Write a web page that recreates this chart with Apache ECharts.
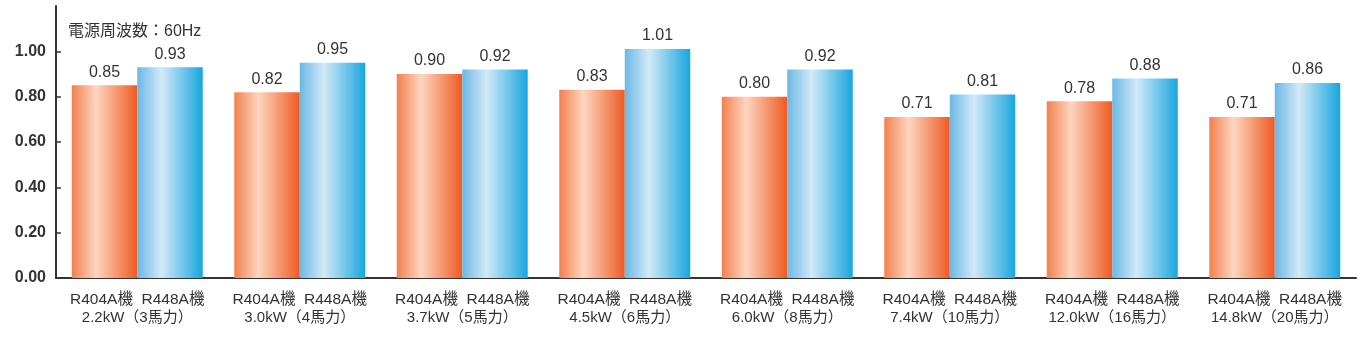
<!DOCTYPE html>
<html>
<head>
<meta charset="utf-8">
<script src="https://cdn.jsdelivr.net/npm/echarts@6/dist/echarts.min.js"></script>
<style>
  html, body { margin: 0; padding: 0; background: #fff; }
  #chart { width: 1371px; height: 344px; }
</style>
</head>
<body>
<div id="chart"></div>
<script>
// Models and capacities
const modelLine = 'R404A機  R448A機';
const capacities = ['2.2kW（3馬力）', '3.0kW（4馬力）', '3.7kW（5馬力）', '4.5kW（6馬力）',
                    '6.0kW（8馬力）', '7.4kW（10馬力）', '12.0kW（16馬力）', '14.8kW（20馬力）'];
// Values per refrigerant
const r404a = [0.85, 0.82, 0.90, 0.83, 0.80, 0.71, 0.78, 0.71];
const r448a = [0.93, 0.95, 0.92, 1.01, 0.92, 0.81, 0.88, 0.86];
// Y axis ticks
const yTicks = [0, 0.2, 0.4, 0.6, 0.8, 1.0];

const categories = capacities;
const textColor = '#333';
const fontFam = '"Liberation Sans", Arial, "Noto Sans CJK JP", sans-serif';

function barGradient(edgeL, mid, edgeR) {
  return new echarts.graphic.LinearGradient(0, 0, 1, 0, [
    { offset: 0, color: edgeL },
    { offset: 0.37, color: mid },
    { offset: 1, color: edgeR }
  ]);
}

const valueLabel = {
  show: true,
  position: 'top',
  distance: 5,
  color: textColor,
  fontSize: 16,
  fontFamily: fontFam,
  formatter: p => p.value.toFixed(2)
};

const chart = echarts.init(document.getElementById('chart'));
chart.setOption({
  animation: false,
  title: {
    text: '電源周波数：60Hz',
    left: 63,
    top: 19,
    textStyle: { color: textColor, fontSize: 16, fontWeight: 'normal', fontFamily: fontFam }
  },
  grid: { left: 56, right: 15, top: 6, bottom: 66, containLabel: false },
  xAxis: {
    type: 'category',
    data: categories,
    axisLine: { lineStyle: { color: textColor, width: 2 } },
    axisTick: { inside: true, length: 6, lineStyle: { color: textColor, width: 1.5 } },
    axisLabel: {
      interval: 0,
      margin: 13,
      formatter: c => '{m|' + modelLine + '}\n{c|' + c + '}',
      rich: {
        m: { color: textColor, fontSize: 15.5, fontFamily: fontFam, lineHeight: 18 },
        c: { color: textColor, fontSize: 15, fontFamily: fontFam, lineHeight: 18 }
      }
    }
  },
  yAxis: {
    type: 'value',
    min: 0,
    max: 1.2,
    interval: 0.2,
    splitLine: { show: false },
    axisLine: { show: true, lineStyle: { color: textColor, width: 2 } },
    axisTick: { show: true, inside: true, length: 5, customValues: yTicks, lineStyle: { color: textColor, width: 1.5 } },
    axisLabel: {
      customValues: yTicks,
      color: textColor,
      fontSize: 16,
      fontWeight: 'bold',
      fontFamily: fontFam,
      margin: 10,
      formatter: v => v.toFixed(2)
    }
  },
  series: [
    {
      name: 'R404A機',
      type: 'bar',
      data: r404a,
      barGap: '0%',
      barCategoryGap: '19.4%',
      itemStyle: { color: barGradient('#F2804E', '#FDD6C0', '#EF5A22') },
      label: valueLabel
    },
    {
      name: 'R448A機',
      type: 'bar',
      data: r448a,
      barGap: '0%',
      barCategoryGap: '19.4%',
      itemStyle: { color: barGradient('#6BB8E4', '#D3E9F7', '#17A6DF') },
      label: valueLabel
    }
  ]
});
</script>
</body>
</html>
